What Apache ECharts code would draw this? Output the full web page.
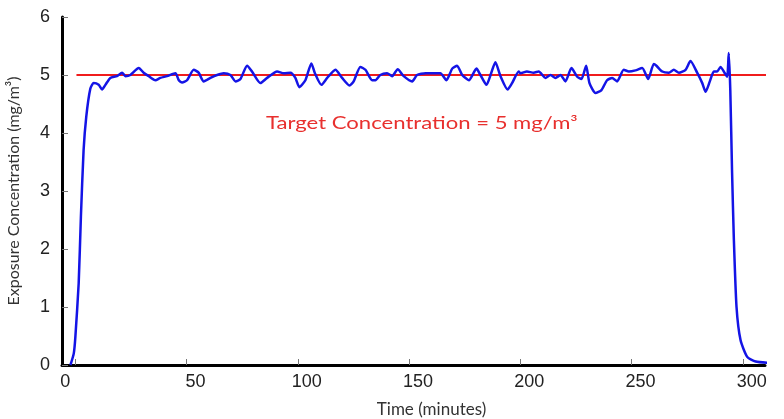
<!DOCTYPE html>
<html>
<head>
<meta charset="utf-8">
<script src="https://cdn.jsdelivr.net/npm/echarts@6/dist/echarts.min.js"></script>
<style>html,body{margin:0;padding:0;background:#fff}#c{width:784px;height:419px}</style>
</head>
<body>
<div id="c"></div>
<script>
// Time (minutes)
const timeMin = [-2.2,-0.7,0,1.5,2.5,3.7,4.9,6.7,8.2,10.5,12,13.5,15.7,18.7,21,22.5,24.7,28.5,30.7,33,36,38.2,41.2,45,46.5,48,50.2,53.2,55.4,57.7,60.7,63.7,66.7,69.7,72,74.2,77.2,79.4,83.2,86.2,90.7,93.7,96.7,98.9,100.7,103.4,106.1,107.6,110.6,113.2,116.9,119.9,123.2,125.1,128.1,130.4,133.4,134.9,137.1,140.1,142.4,144.9,147.6,151.4,153.6,157.4,161.1,164.1,166.8,169.4,171.6,173.9,176.9,180.3,182.1,184.8,186.9,188.8,191.1,194.3,196.3,199.3,200.1,203,206,208.3,211.3,213.6,215.8,218.1,220.3,223,225.6,227.5,229.6,231.1,233.8,236.5,239,241.3,243.5,246.5,248.8,251.8,254.8,257.5,260,261.2,263.8,266.8,269,271.3,274.3,276.5,279.5,281.8,283.3,285.2,287,288.5,290,291.8,293,293.7,294.4,295.2,296,297.2,299,302,305.8,311];
// Exposure concentration (mg/m3)
const concentration = [0,0.2,0.48,1.41,2.56,3.7,4.28,4.76,4.86,4.83,4.75,4.83,4.95,4.98,5.04,4.98,5.0,5.12,5.04,4.98,4.91,4.95,4.98,5.03,4.91,4.87,4.91,5.09,5.04,4.89,4.95,5.0,5.03,5.0,4.89,4.93,5.16,5.06,4.86,4.95,5.06,5.03,5.04,4.95,4.79,4.91,5.2,5.04,4.83,4.95,5.09,4.95,4.82,4.89,5.14,5.09,4.91,4.91,5.0,5.03,4.98,5.1,4.98,4.89,5.0,5.03,5.03,5.03,4.91,5.11,5.16,5.0,4.91,5.11,5.0,4.83,5.03,5.22,4.98,4.75,4.86,5.06,5.03,5.06,5.04,5.06,4.95,5.0,4.95,5.0,4.89,5.12,4.97,4.93,5.16,4.86,4.69,4.74,4.91,4.95,4.89,5.09,5.06,5.08,5.12,4.93,5.19,5.16,5.06,5.04,5.09,5.04,5.09,5.24,5.04,4.86,4.71,4.89,5.06,5.06,5.14,5.04,4.97,5.38,4.74,3.32,2.17,1.0,0.43,0.14,0.06,0.04];
// Target concentration line
const targetX = [0.5, 313.5];
const targetValue = 5;
const xTicks = [0,50,100,150,200,250,300];
const yTicks = [0,1,2,3,4,5,6];

const chart = echarts.init(document.getElementById('c'), null, {renderer:'canvas'});
const lineData = timeMin.map((t,i)=>[t, concentration[i]]);
const targetData = targetX.map(t=>[t, targetValue]);
chart.setOption({
  animation:false,
  backgroundColor:'#ffffff',
  grid:{left:62, right:19, top:17, bottom:54, containLabel:false, outerBoundsMode:'none'},
  xAxis:{
    type:'value', min:-6, max:310,
    axisLine:{show:true, onZero:false, lineStyle:{color:'#000', width:3}},
    axisTick:{show:true, inside:true, length:6, customValues:xTicks, lineStyle:{color:'#777', width:1}},
    axisLabel:{customValues:xTicks, color:'#222', fontSize:18, fontFamily:'Liberation Sans', margin:8,
      formatter:v => v === 0 ? '{z|0}' : '{n|' + v + '}',
      rich:{
        n:{fontSize:18, color:'#222', fontFamily:'Liberation Sans', padding:[0,0,0,18]},
        z:{fontSize:18, color:'#222', fontFamily:'Liberation Sans', padding:[0,20,0,0]}
      }},
    splitLine:{show:false},
    name:'Time (minutes)', nameLocation:'middle', nameGap:36,
    nameTextStyle:{color:'#333', fontSize:17, fontFamily:'Lato', padding:[0,0,0,36]}
  },
  yAxis:{
    type:'value', min:0, max:6, interval:1,
    axisLine:{show:true, onZero:false, lineStyle:{color:'#000', width:3}},
    axisTick:{show:true, inside:true, length:6, lineStyle:{color:'#777', width:1}},
    axisLabel:{color:'#222', fontSize:18, fontFamily:'Liberation Sans', margin:12},
    splitLine:{show:false},
    name:'Exposure Concentration (mg/m³)', nameLocation:'middle', nameGap:40,
    nameTextStyle:{color:'#333', fontSize:16, fontFamily:'Lato'}
  },
  graphic:[{
    type:'text', x:266, y:124, scaleX:1.3,
    style:{text:'Target Concentration = 5 mg/m³', fill:'#e8302e', fontSize:17, fontFamily:'Lato',
      textVerticalAlign:'middle', verticalAlign:'middle'}
  }],
  series:[
    {type:'line', data:targetData, symbol:'none', clip:false,
     lineStyle:{color:'#f01c1c', width:2}, z:2},
    {type:'line', data:lineData, symbol:'none', smooth:0.2, clip:false,
     lineStyle:{color:'#1414e6', width:2.5}, z:3}
  ]
});
</script>
</body>
</html>
